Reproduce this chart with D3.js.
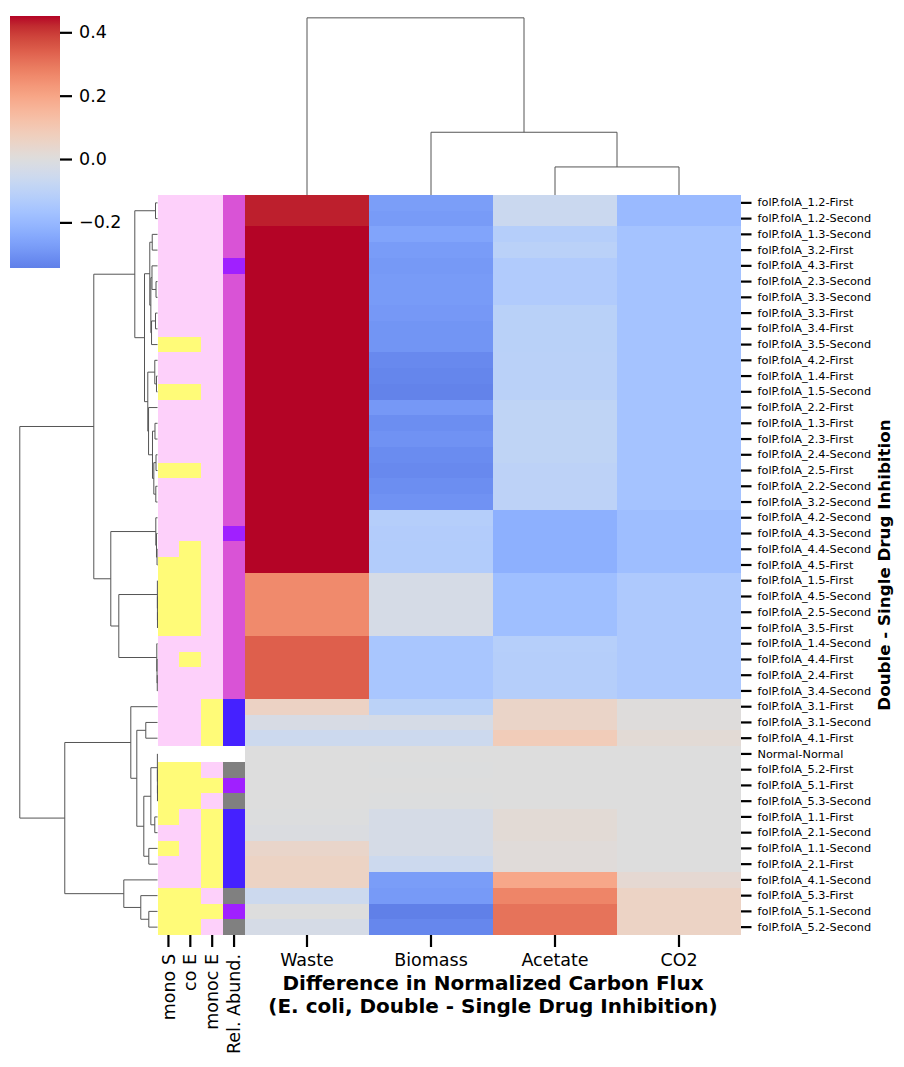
<!DOCTYPE html>
<html>
<head>
<meta charset="utf-8">
<script src="https://cdn.jsdelivr.net/npm/d3@7"></script>
<style>
  body { margin: 0; background: #fff; }
  text { font-family: "DejaVu Sans", sans-serif; }
</style>
</head>
<body>
<div id="chart"></div>
<script>
// ---- data (rows in the clustered display order) ----
const columns = ["Waste", "Biomass", "Acetate", "CO2"];

const rowLabels = [
  "folP.folA_1.2-First", "folP.folA_1.2-Second", "folP.folA_1.3-Second", "folP.folA_3.2-First",
  "folP.folA_4.3-First", "folP.folA_2.3-Second", "folP.folA_3.3-Second", "folP.folA_3.3-First",
  "folP.folA_3.4-First", "folP.folA_3.5-Second", "folP.folA_4.2-First", "folP.folA_1.4-First",
  "folP.folA_1.5-Second", "folP.folA_2.2-First", "folP.folA_1.3-First", "folP.folA_2.3-First",
  "folP.folA_2.4-Second", "folP.folA_2.5-First", "folP.folA_2.2-Second", "folP.folA_3.2-Second",
  "folP.folA_4.2-Second", "folP.folA_4.3-Second", "folP.folA_4.4-Second", "folP.folA_4.5-First",
  "folP.folA_1.5-First", "folP.folA_4.5-Second", "folP.folA_2.5-Second", "folP.folA_3.5-First",
  "folP.folA_1.4-Second", "folP.folA_4.4-First", "folP.folA_2.4-First", "folP.folA_3.4-Second",
  "folP.folA_3.1-First", "folP.folA_3.1-Second", "folP.folA_4.1-First", "Normal-Normal",
  "folP.folA_5.2-First", "folP.folA_5.1-First", "folP.folA_5.3-Second", "folP.folA_1.1-First",
  "folP.folA_2.1-Second", "folP.folA_1.1-Second", "folP.folA_2.1-First", "folP.folA_4.1-Second",
  "folP.folA_5.3-First", "folP.folA_5.1-Second", "folP.folA_5.2-Second"
];

const waste = [
  0.43, 0.43, 0.4515, 0.4515, 0.4515, 0.4515, 0.4515, 0.4515, 0.4515, 0.4515,
  0.4515, 0.4515, 0.4515, 0.4515, 0.4515, 0.4515, 0.4515, 0.4515, 0.4515, 0.4515,
  0.4515, 0.4515, 0.4515, 0.4515, 0.26, 0.26, 0.26, 0.26, 0.34, 0.34,
  0.34, 0.34, 0.059, -0.022, -0.056, 0, 0, 0, 0, -0.002,
  -0.01, 0.045, 0.058, 0.058, -0.056, 0, -0.028
];
const biomass = [
  -0.272, -0.28, -0.257, -0.276, -0.285, -0.28, -0.28, -0.286, -0.295, -0.295,
  -0.322, -0.33, -0.337, -0.286, -0.31, -0.30, -0.315, -0.322, -0.31, -0.30,
  -0.122, -0.128, -0.13, -0.13, -0.028, -0.028, -0.028, -0.028, -0.153, -0.153,
  -0.153, -0.153, -0.104, -0.028, -0.056, 0, -0.004, 0, -0.004, -0.028,
  -0.028, -0.028, -0.056, -0.274, -0.283, -0.344, -0.328
];
const acetate = [
  -0.063, -0.063, -0.122, -0.108, -0.134, -0.134, -0.134, -0.11, -0.11, -0.11,
  -0.108, -0.108, -0.108, -0.092, -0.092, -0.092, -0.092, -0.1, -0.1, -0.1,
  -0.226, -0.226, -0.226, -0.226, -0.18, -0.18, -0.18, -0.18, -0.118, -0.122,
  -0.122, -0.122, 0.05, 0.05, 0.085, 0, 0, 0, 0, 0.018,
  0.018, 0.01, 0.01, 0.194, 0.271, 0.305, 0.305
];
const co2 = [
  -0.193, -0.193, -0.164, -0.164, -0.164, -0.164, -0.164, -0.164, -0.164, -0.164,
  -0.164, -0.164, -0.164, -0.164, -0.164, -0.164, -0.164, -0.164, -0.164, -0.164,
  -0.183, -0.183, -0.183, -0.183, -0.14, -0.14, -0.14, -0.14, -0.14, -0.14,
  -0.14, -0.14, 0.005, 0.005, 0.018, 0, 0, 0, 0, 0,
  0, 0, 0, 0.027, 0.056, 0.056, 0.056
];

// row colour annotations (0 = no, 1 = yes, null = not annotated)
const annLabels = ["mono S", "co E", "monoc E", "Rel. Abund."];
const monoS = [
  0, 0, 0, 0, 0, 0, 0, 0, 0, 1,  0, 0, 1, 0, 0, 0, 0, 1, 0, 0,
  0, 0, 0, 1, 1, 1, 1, 1, 0, 0,  0, 0, 0, 0, 0, null, 1, 1, 1, 1,
  0, 1, 0, 0, 1, 1, 1
];
const coE = [
  0, 0, 0, 0, 0, 0, 0, 0, 0, 1,  0, 0, 1, 0, 0, 0, 0, 1, 0, 0,
  0, 0, 1, 1, 1, 1, 1, 1, 0, 1,  0, 0, 0, 0, 0, null, 1, 1, 1, 0,
  0, 0, 0, 0, 1, 1, 1
];
const monocE = [
  0, 0, 0, 0, 0, 0, 0, 0, 0, 0,  0, 0, 0, 0, 0, 0, 0, 0, 0, 0,
  0, 0, 0, 0, 0, 0, 0, 0, 0, 0,  0, 0, 1, 1, 1, null, 0, 1, 0, 1,
  1, 1, 1, 1, 0, 1, 0
];
const relAbund = [
  "M", "M", "M", "M", "P", "M", "M", "M", "M", "M",  "M", "M", "M", "M", "M", "M", "M", "M", "M", "M",
  "M", "P", "M", "M", "M", "M", "M", "M", "M", "M",  "M", "M", "B", "B", "B", null, "G", "P", "G", "B",
  "B", "B", "B", "B", "G", "P", "G"
];

// hierarchical clustering (scipy style: [childA, childB, distance]; ids >= n are merged clusters)
const rowLinkage = [
  [0, 1, 0.0087], [2, 3, 0.023], [5, 6, 0.0065], [4, 49, 0.024], [7, 8, 0.0087],
  [51, 9, 0.026], [50, 52, 0.029], [48, 53, 0.0336], [11, 12, 0.0044], [10, 55, 0.0118],
  [14, 15, 0.011], [16, 17, 0.0065], [18, 19, 0.0074], [58, 59, 0.016], [57, 60, 0.0218],
  [13, 61, 0.039], [56, 62, 0.0423], [54, 63, 0.0566], [47, 64, 0.0989], [22, 23, 0.002],
  [21, 66, 0.0044], [20, 67, 0.0074], [26, 27, 0.0001], [25, 69, 0.0003], [24, 70, 0.0005],
  [30, 31, 0.001], [29, 72, 0.002], [28, 73, 0.003], [71, 74, 0.1686], [68, 75, 0.2035],
  [65, 76, 0.2776], [37, 38, 0.0001], [36, 78, 0.0003], [35, 79, 0.0005], [39, 40, 0.0118],
  [80, 81, 0.029], [41, 42, 0.0379], [82, 83, 0.0597], [33, 34, 0.051], [85, 84, 0.0902],
  [32, 86, 0.1163], [45, 46, 0.0379], [44, 88, 0.0728], [43, 89, 0.1468], [87, 90, 0.404],
  [77, 91, 0.600]
];
const colLinkage = [[2, 3, 0.38], [1, 4, 0.85], [0, 5, 2.4]];

// ---- colours ----
// matplotlib "coolwarm" (Moreland diverging map), 33 evenly spaced stops
const coolwarmStops = [
  [59,76,192],[68,90,204],[77,104,215],[87,117,225],[98,130,234],[108,142,241],[119,154,247],
  [130,165,251],[141,176,254],[152,185,255],[163,194,255],[174,201,253],[184,208,249],
  [194,213,244],[204,217,238],[213,219,230],[221,221,221],[229,216,209],[236,211,197],
  [241,204,185],[245,196,173],[247,187,160],[247,177,148],[247,166,135],[244,154,123],
  [241,141,111],[236,127,99],[229,112,88],[222,96,77],[213,80,66],[203,62,56],[192,40,47],[180,4,38]
].map(c => d3.rgb(c[0], c[1], c[2]));
const coolwarm = d3.piecewise(d3.interpolateRgb, coolwarmStops);

const flagColor = {0: "#fdd0fa", 1: "#fffb78"};
const relColor = {M: "#d953d6", P: "#a020ff", B: "#4521ff", G: "#808080"};

// ---- layout ----
const W = 904, H = 1067;
const heat = {left: 245, right: 741, top: 195, bottom: 935};
const annLeft = 157.5;

const svg = d3.select("#chart").append("svg")
    .attr("width", W)
    .attr("height", H);

const series = [waste, biomass, acetate, co2];
const allValues = series.flat();
const vmin = d3.min(allValues), vmax = d3.max(allValues);
const vrange = Math.max(Math.abs(vmin), Math.abs(vmax));   // centred on 0
const color = v => coolwarm((v + vrange) / (2 * vrange));

const x = d3.scaleBand().domain(columns).range([heat.left, heat.right]);
const y = d3.scaleBand().domain(rowLabels).range([heat.top, heat.bottom]);
const xa = d3.scaleBand().domain(annLabels).range([annLeft, heat.left]);

// heatmap cells
const cells = [];
rowLabels.forEach((r, i) => {
    columns.forEach((c, j) => cells.push({row: r, col: c, value: series[j][i]}));
});
svg.append("g").attr("class", "cells")
    .selectAll("rect")
    .data(cells)
    .enter()
    .append("rect")
    .attr("x", d => x(d.col))
    .attr("y", d => y(d.row))
    .attr("width", x.bandwidth())
    .attr("height", y.bandwidth())
    .attr("fill", d => color(d.value))
    .attr("shape-rendering", "crispEdges");

// colour annotation strip
const annSeries = [monoS, coE, monocE, relAbund];
const annCells = [];
rowLabels.forEach((r, i) => {
    annLabels.forEach((a, j) => {
        const v = annSeries[j][i];
        if (v === null) return;
        annCells.push({row: r, ann: a, fill: j === 3 ? relColor[v] : flagColor[v]});
    });
});
svg.append("g").attr("class", "annotations")
    .selectAll("rect")
    .data(annCells)
    .enter()
    .append("rect")
    .attr("x", d => xa(d.ann))
    .attr("y", d => y(d.row))
    .attr("width", xa.bandwidth())
    .attr("height", y.bandwidth())
    .attr("fill", d => d.fill)
    .attr("shape-rendering", "crispEdges");

// dendrograms
function drawDendrogram(g, linkage, leafPos, distScale, vertical) {
    let pos = leafPos.slice();
    let hgt = leafPos.map(() => 0);
    let pt = (d, p) => vertical ? [p, distScale(d)] : [distScale(d), p];
    linkage.forEach(([a, b, d]) => {
        let pts = [pt(hgt[a], pos[a]), pt(d, pos[a]), pt(d, pos[b]), pt(hgt[b], pos[b])];
        g.append("path")
            .attr("d", d3.line()(pts))
            .attr("fill", "none")
            .attr("stroke", "#555")
            .attr("stroke-width", 1);
        pos.push((pos[a] + pos[b]) / 2);
        hgt.push(d);
    });
}

const rowMax = d3.max(rowLinkage, d => d[2]);
const rowDist = d3.scaleLinear().domain([0, rowMax * 1.05]).range([annLeft, annLeft - 144.6]);
drawDendrogram(svg.append("g").attr("class", "row-dendrogram"), rowLinkage,
    rowLabels.map(r => y(r) + y.bandwidth() / 2), rowDist, false);

const colMax = d3.max(colLinkage, d => d[2]);
const colDist = d3.scaleLinear().domain([0, colMax * 1.05]).range([heat.top, heat.top - 186]);
drawDendrogram(svg.append("g").attr("class", "col-dendrogram"), colLinkage,
    columns.map(c => x(c) + x.bandwidth() / 2), colDist, true);

// axes
function styleAxis(g, size) {
    g.select(".domain").remove();
    g.selectAll(".tick line").attr("stroke", "#000").attr("stroke-width", 2.2);
    g.selectAll(".tick text").attr("fill", "#000")
        .style("font-family", "DejaVu Sans").style("font-size", size + "px");
}

svg.append("g")
    .attr("transform", `translate(${heat.right},0)`)
    .call(d3.axisRight(y).tickSize(10.5).tickPadding(6))
    .call(g => styleAxis(g, 11.3));

svg.append("g")
    .attr("transform", `translate(0,${heat.bottom})`)
    .call(d3.axisBottom(x).tickSize(12).tickPadding(7))
    .call(g => styleAxis(g, 17.5));

svg.append("g")
    .attr("transform", `translate(0,${heat.bottom})`)
    .call(d3.axisBottom(xa).tickSize(12).tickPadding(7))
    .call(g => styleAxis(g, 17.5))
    .call(g => g.selectAll(".tick text")
        .attr("x", -19)
        .attr("y", 0)
        .attr("dy", "0.35em")
        .attr("transform", "rotate(-90)")
        .style("text-anchor", "end"));

// axis titles
const xTitle = svg.append("text")
    .attr("x", (heat.left + heat.right) / 2)
    .attr("y", 990)
    .attr("text-anchor", "middle")
    .style("font-size", "20px")
    .style("font-weight", "bold");
xTitle.append("tspan").attr("x", (heat.left + heat.right) / 2).attr("dy", 0)
    .text("Difference in Normalized Carbon Flux");
xTitle.append("tspan").attr("x", (heat.left + heat.right) / 2).attr("dy", 23)
    .text("(E. coli, Double - Single Drug Inhibition)");

svg.append("text")
    .attr("transform", `translate(890,${(heat.top + heat.bottom) / 2}) rotate(-90)`)
    .attr("text-anchor", "middle")
    .style("font-size", "16.7px")
    .style("font-weight", "bold")
    .text("Double - Single Drug Inhibition");

// colour bar
const cb = {left: 10, right: 60, top: 16, bottom: 268};
const cbScale = d3.scaleLinear().domain([vmin, vmax]).range([cb.bottom, cb.top]);
const grad = svg.append("defs").append("linearGradient")
    .attr("id", "cbar")
    .attr("x1", 0).attr("y1", 1).attr("x2", 0).attr("y2", 0);
d3.range(0, 1.0001, 0.02).forEach(t => {
    grad.append("stop")
        .attr("offset", t)
        .attr("stop-color", color(vmin + t * (vmax - vmin)));
});
svg.append("rect")
    .attr("x", cb.left)
    .attr("y", cb.top)
    .attr("width", cb.right - cb.left)
    .attr("height", cb.bottom - cb.top)
    .attr("fill", "url(#cbar)");
svg.append("g")
    .attr("transform", `translate(${cb.right},0)`)
    .call(d3.axisRight(cbScale).tickValues([-0.2, 0, 0.2, 0.4]).tickFormat(d3.format(".1f"))
        .tickSize(12).tickPadding(7))
    .call(g => styleAxis(g, 17.5));
</script>
</body>
</html>
